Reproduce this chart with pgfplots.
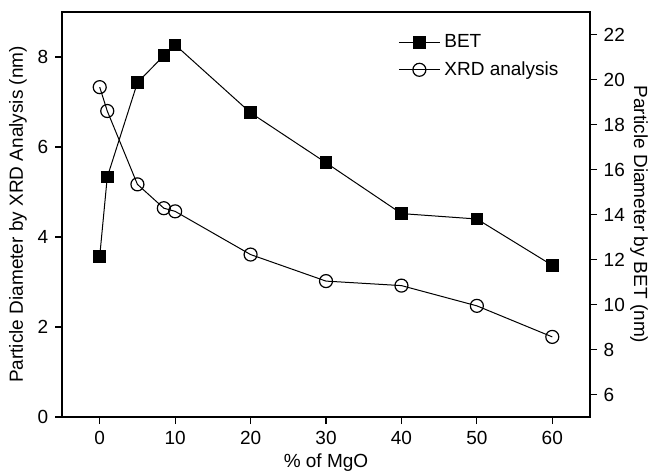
\documentclass[border=0pt]{standalone}
\usepackage{fontspec}
\setmainfont{Liberation Sans}
\usepackage{pgfplots}
\pgfplotsset{compat=1.18}
\usetikzlibrary{calc}

\begin{document}
\fontsize{9.5}{11}\selectfont
\begin{tikzpicture}
\pgfplotsset{
  common/.style={
    scale only axis, width=264pt, height=202.5pt,
    xmin=-5, xmax=65,
    tick align=outside, major tick length=3.5pt,
    every tick/.style={black, line width=0.6pt},
    /pgf/number format/assume math mode=true,
    tick label style={font=\fontsize{9.5}{11}\selectfont},
    label style={font=\fontsize{9.5}{11}\selectfont},
    axis line style={line width=1pt},
  },
}
% XRD on the left axis
\begin{axis}[common,
    ymin=0, ymax=9,
    xtick={0,10,...,60}, ytick={0,2,...,8},
    xtick pos=bottom, ytick pos=left,
    xlabel={\% of MgO},
    ylabel={Particle Diameter by XRD Analysis (nm)},
    x label style={at={(axis description cs:0.5,-0.1136)}, anchor=center},
    y label style={at={(axis description cs:-0.0833,0.5)}, anchor=center},
  ]
  \coordinate (sw) at (rel axis cs:0,0);
  \coordinate (ne) at (rel axis cs:1,1);
  \addplot[black, line width=0.5pt, mark=o, mark size=3.25pt,
           mark options={fill=white, line width=0.6pt}]
  coordinates {
    (0,7.33) (1,6.80) (5,5.17) (8.5,4.64) (10,4.57)
    (20,3.61) (30,3.02) (40,2.92) (50,2.47) (60,1.78)
  };
\end{axis}
% BET on the right axis
\begin{axis}[common,
    ymin=5, ymax=23,
    ytick={6,8,...,22},
    axis x line=none, axis y line*=right, ytick pos=right,
    ylabel={Particle Diameter by BET (nm)},
    y label style={at={(axis description cs:1.0928,0.5)}, anchor=center, rotate=180},
    legend style={draw=none, fill=none, at={(axis description cs:0.625,0.965)},
      anchor=north west, font=\fontsize{9.5}{11}\selectfont,
      row sep=1.5pt},
    legend cell align=left,
    legend image code/.code={
      \draw[#1, mark=none] (0cm,0cm) -- (0.72cm,0cm);
      \draw[#1, only marks] plot coordinates {(0.36cm,0cm)};},
  ]
  \addplot[black, line width=0.5pt, mark=square*, mark size=2.9pt]
  coordinates {
    (0,12.14) (1,15.66) (5,19.86) (8.5,21.06) (10,21.54)
    (20,18.52) (30,16.30) (40,14.04) (50,13.80) (60,11.74)
  };
  \addlegendentry{BET}
  \addlegendimage{black, line width=0.5pt, mark=o, mark size=3.25pt,
           mark options={fill=white, line width=0.6pt}}
  \addlegendentry{XRD analysis}
\end{axis}
\pgfresetboundingbox
\path ($(sw)+(-31pt,-28.5pt)$) rectangle ($(ne)+(29pt,6pt)$);
\end{tikzpicture}
\end{document}
